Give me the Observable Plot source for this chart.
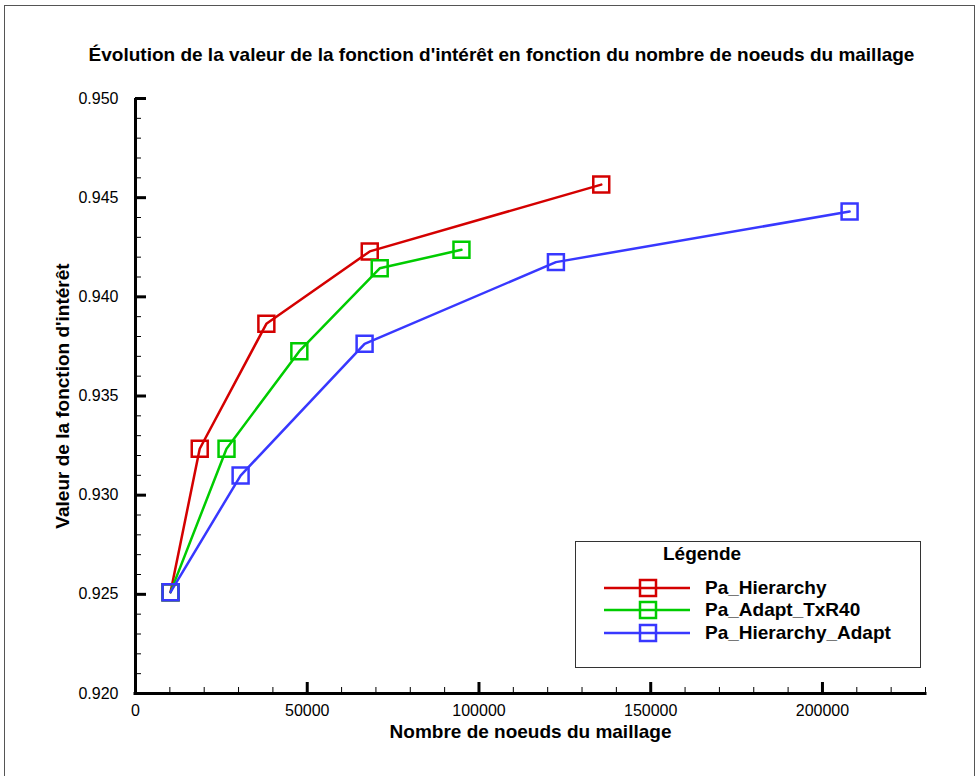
<!DOCTYPE html>
<html><head><meta charset="utf-8">
<script src="https://cdn.jsdelivr.net/npm/d3@7"></script>
<script src="https://cdn.jsdelivr.net/npm/@observablehq/plot@0.6"></script>
<style>
body{margin:0;background:#fff;font-family:"Liberation Sans",Arial,Helvetica,sans-serif;}
#wrap{position:relative;width:979px;height:776px;overflow:hidden;}
#frame{position:absolute;left:4px;top:5px;width:969px;height:800px;border-top:1px solid #555;border-left:1px solid #555;border-right:1px solid #555;pointer-events:none;}
#legend{position:absolute;left:575px;top:541px;width:344px;height:125px;border:1px solid #333;background:#fff;font-weight:bold;font-size:19px;color:#000;}
#legend .title{position:absolute;left:87px;top:0px;line-height:24px;}
#legend .row{position:absolute;left:0;height:22px;width:340px;}
#legend .row svg{position:absolute;left:27px;top:0;}
#legend .row span{position:absolute;left:129px;top:0;line-height:22px;}
</style></head><body>
<div id="wrap"><div id="frame"></div></div>
<script>
// Series names and colours
const series = ["Pa_Hierarchy", "Pa_Adapt_TxR40", "Pa_Hierarchy_Adapt"];
const colors = ["#d40000", "#00cc00", "#3838ff"];

// Pa_Hierarchy
const hierarchyNodes  = [10200, 18700, 38100, 68200, 135600];
const hierarchyValues = [0.92511, 0.93234, 0.93864, 0.94229, 0.94566];
// Pa_Adapt_TxR40
const adaptNodes  = [10200, 26500, 47700, 71100, 94900];
const adaptValues = [0.92511, 0.93234, 0.93726, 0.94144, 0.94237];
// Pa_Hierarchy_Adapt
const hierAdaptNodes  = [10200, 30600, 66700, 122400, 207900];
const hierAdaptValues = [0.92511, 0.93099, 0.93763, 0.94175, 0.94430];

// Axis ticks
const xMajorTicks = [0, 50000, 100000, 150000, 200000];
const xTickLabels = ["0", "50000", "100000", "150000", "200000"];
const xMinorTicks = [10000,20000,30000,40000,60000,70000,80000,90000,110000,120000,130000,140000,160000,170000,180000,190000,210000,220000,230000];
const yMajorTicks = [0.920, 0.925, 0.930, 0.935, 0.940, 0.945, 0.950];
const yTickLabels = ["0.920", "0.925", "0.930", "0.935", "0.940", "0.945", "0.950"];
const yMinorTicks = [0.921,0.922,0.923,0.924,0.926,0.927,0.928,0.929,0.931,0.932,0.933,0.934,0.936,0.937,0.938,0.939,0.941,0.942,0.943,0.944,0.946,0.947,0.948,0.949];

const titleText = "Évolution de la valeur de la fonction d'intérêt en fonction du nombre de noeuds du maillage";
const xLabel = "Nombre de noeuds du maillage";
const yLabel = "Valeur de la fonction d'intérêt";
const legendTitle = "Légende";

const nodeArrays = [hierarchyNodes, adaptNodes, hierAdaptNodes];
const valueArrays = [hierarchyValues, adaptValues, hierAdaptValues];
const data = series.flatMap((s, i) => nodeArrays[i].map((n, j) => ({series: s, nodes: n, value: valueArrays[i][j]})));

const W = 979, H = 776, mL = 135, mR = 54, mT = 98, mB = 83;
const frameW = W - mL - mR, frameH = H - mT - mB;
const font = "'Liberation Sans', Arial, Helvetica, sans-serif";

const chart = Plot.plot({
  width: W, height: H,
  marginLeft: mL, marginRight: mR, marginTop: mT, marginBottom: mB,
  style: {fontFamily: font, fontSize: "16px", color: "#000", background: "#fff", overflow: "visible"},
  x: {domain: [0, 230000]},
  y: {domain: [0.920, 0.950]},
  color: {domain: series, range: colors},
  marks: [
    Plot.axisY(yMajorTicks, {tickSize: 0, tickPadding: 17, tickFormat: (d, i) => yTickLabels[i], label: null, fontSize: 16}),
    Plot.axisX(xMajorTicks, {tickSize: 0, tickPadding: 11, tickFormat: (d, i) => xTickLabels[i], label: null, fontSize: 16}),
    Plot.tickY(yMinorTicks, {y: d => d, insetRight: frameW - 6, strokeWidth: 1, stroke: "#000"}),
    Plot.tickY(yMajorTicks, {y: d => d, insetRight: frameW - 11, strokeWidth: 3, stroke: "#000"}),
    Plot.tickX(xMinorTicks, {x: d => d, insetTop: frameH - 6, strokeWidth: 1, stroke: "#000"}),
    Plot.tickX(xMajorTicks, {x: d => d, insetTop: frameH - 11, strokeWidth: 3, stroke: "#000"}),
    Plot.ruleX([0], {strokeWidth: 3, stroke: "#000"}),
    Plot.ruleY([0.920], {strokeWidth: 3, stroke: "#000", strokeLinecap: "square"}),
    Plot.line(data, {x: "nodes", y: "value", z: "series", stroke: "series", strokeWidth: 2.5}),
    Plot.dot(data, {x: "nodes", y: "value", stroke: "series", symbol: "square", r: 9, strokeWidth: 2.5, fill: "none"}),
    Plot.text([titleText], {frameAnchor: "top", dx: -29, dy: -51, fontWeight: "bold", fontSize: 19, fill: "#000"}),
    Plot.text([xLabel], {frameAnchor: "bottom", dy: 44, fontWeight: "bold", fontSize: 19, fill: "#000"}),
    Plot.text([yLabel], {frameAnchor: "left", textAnchor: "middle", dx: -73, rotate: -90, fontWeight: "bold", fontSize: 19, fill: "#000"})
  ]
});
const wrap = document.getElementById("wrap");
chart.style.position = "absolute"; chart.style.left = "0"; chart.style.top = "0";
wrap.insertBefore(chart, wrap.firstChild);

// Legend
const legend = document.createElement("div");
legend.id = "legend";
let html = `<div class="title">${legendTitle}</div>`;
const rowTops = [35, 57, 80];
series.forEach((s, i) => {
  html += `<div class="row" style="top:${rowTops[i]}px"><svg width="90" height="22"><line x1="1" x2="87" y1="11" y2="11" stroke="${colors[i]}" stroke-width="2.5"/><rect x="37" y="3" width="16" height="16" fill="none" stroke="${colors[i]}" stroke-width="2.5"/></svg><span>${s}</span></div>`;
});
legend.innerHTML = html;
wrap.appendChild(legend);
</script>
</body></html>
